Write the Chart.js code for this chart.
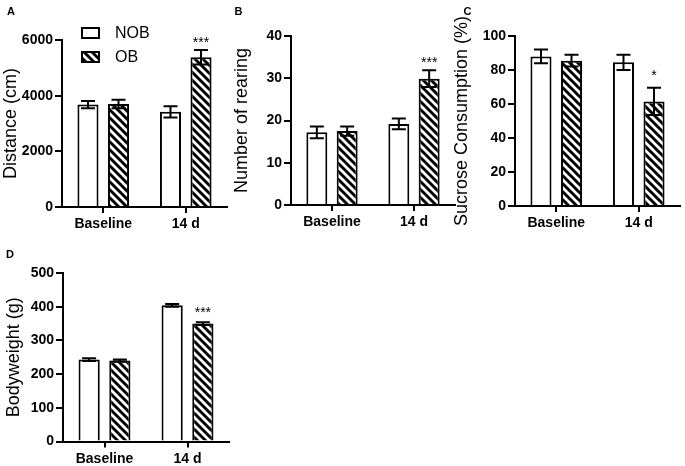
<!DOCTYPE html>
<html>
<head>
<meta charset="utf-8">
<script src="https://cdn.jsdelivr.net/npm/chart.js@4.4.1/dist/chart.umd.min.js"></script>
<style>
  html, body { margin: 0; padding: 0; background: #fff; }
  #wrap { position: relative; width: 685px; height: 466px; overflow: hidden; }
  canvas { position: absolute; }
</style>
</head>
<body>
<div id="wrap">
  <canvas id="cA" width="231" height="240" style="left:0;top:0"></canvas>
  <canvas id="cB" width="225" height="240" style="left:231px;top:0"></canvas>
  <canvas id="cC" width="234" height="240" style="left:451px;top:0"></canvas>
  <canvas id="cD" width="240" height="236" style="left:3px;top:230px"></canvas>
</div>
<script>
// shared
const groups = ['Baseline', '14 d'];
const seriesNames = ['NOB', 'OB'];

// A - distance
const distNOB = [3680, 3420];
const distNOBsem = [130, 200];
const distOB = [3700, 5380];
const distOBsem = [150, 260];
const distStars = ['', '***'];
const distTicks = [0, 2000, 4000, 6000];

// B - rearing
const rearNOB = [17.2, 19.2];
const rearNOBsem = [1.4, 1.3];
const rearOB = [17.5, 29.9];
const rearOBsem = [1.1, 2.0];
const rearStars = ['', '***'];
const rearTicks = [0, 10, 20, 30, 40];

// C - sucrose
const sucNOB = [88, 84.5];
const sucNOBsem = [4, 4.5];
const sucOB = [85.5, 61.5];
const sucOBsem = [3.5, 8];
const sucStars = ['', '*'];
const sucTicks = [0, 20, 40, 60, 80, 100];

// D - bodyweight
const bwNOB = [243, 404];
const bwNOBsem = [4, 4];
const bwOB = [240, 350];
const bwOBsem = [3, 4];
const bwStars = ['', '***'];
const bwTicks = [0, 100, 200, 300, 400, 500];

const FONT = "'Liberation Sans', Arial, sans-serif";
Chart.defaults.font.family = FONT;
Chart.defaults.color = '#000';

// diagonal hatch for the OB bars
function makeHatch() {
  const c = document.createElement('canvas');
  c.width = c.height = 8;
  const g = c.getContext('2d');
  g.fillStyle = '#fff';
  g.fillRect(0, 0, 8, 8);
  g.strokeStyle = '#000';
  g.lineWidth = 2.9;
  g.beginPath();
  g.moveTo(-2, -2); g.lineTo(10, 10);
  g.moveTo(-2, 6); g.lineTo(2, 10);
  g.moveTo(6, -2); g.lineTo(10, 2);
  g.stroke();
  return g.createPattern(c, 'repeat');
}
const hatch = makeHatch();

// error bars (+/- SEM) and significance stars
const errorBars = {
  id: 'errorBars',
  afterDatasetsDraw(chart, args, o) {
    const ctx = chart.ctx, y = chart.scales.y;
    chart.data.datasets.forEach((ds, i) => {
      chart.getDatasetMeta(i).data.forEach((bar, j) => {
        const v = ds.data[j], e = ds.sem[j];
        const yT = y.getPixelForValue(v + e), yB = y.getPixelForValue(v - e);
        ctx.save();
        ctx.strokeStyle = '#000';
        ctx.lineWidth = 2;
        ctx.beginPath();
        ctx.moveTo(bar.x, yT); ctx.lineTo(bar.x, yB);
        ctx.moveTo(bar.x - 7, yT); ctx.lineTo(bar.x + 7, yT);
        ctx.moveTo(bar.x - 7, yB); ctx.lineTo(bar.x + 7, yB);
        ctx.stroke();
        if (ds.stars && ds.stars[j]) {
          ctx.fillStyle = '#000';
          ctx.font = '14px ' + FONT;
          ctx.textAlign = 'center';
          ctx.textBaseline = 'alphabetic';
          ctx.fillText(ds.stars[j], bar.x, yT - o.gap);
        }
        ctx.restore();
      });
    });
  }
};

const panelLetter = {
  id: 'panelLetter',
  afterDraw(chart, args, o) {
    const ctx = chart.ctx;
    ctx.save();
    ctx.font = 'bold 11px ' + FONT;
    ctx.fillStyle = '#000';
    ctx.textAlign = 'center';
    ctx.textBaseline = 'middle';
    ctx.fillText(o.text, o.x, o.y);
    ctx.restore();
  }
};

// legend drawn above the plot like the original
const boxLegend = {
  id: 'boxLegend',
  afterDraw(chart, args, o) {
    if (!o.show) return;
    const ctx = chart.ctx;
    chart.data.datasets.forEach((ds, i) => {
      const y = o.y + i * o.step;
      ctx.save();
      ctx.fillStyle = ds.backgroundColor;
      ctx.fillRect(o.x, y, 17, 10);
      ctx.strokeStyle = '#000';
      ctx.lineWidth = 2;
      ctx.strokeRect(o.x, y, 17, 10);
      ctx.fillStyle = '#000';
      ctx.font = '16px ' + FONT;
      ctx.textBaseline = 'middle';
      ctx.fillText(ds.label, o.x + 33, y + 5.5);
      ctx.restore();
    });
  }
};

function panel(id, p) {
  return new Chart(document.getElementById(id), {
    type: 'bar',
    data: {
      labels: groups,
      datasets: [
        { label: seriesNames[0], data: p.nob, sem: p.nobSem, backgroundColor: '#fff', borderColor: '#000', borderWidth: 2 },
        { label: seriesNames[1], data: p.ob, sem: p.obSem, stars: p.stars, backgroundColor: hatch, borderColor: '#000', borderWidth: 2 }
      ]
    },
    options: {
      responsive: false,
      animation: false,
      devicePixelRatio: 1,
      layout: { padding: p.pad },
      datasets: { bar: { categoryPercentage: 0.74, barPercentage: 0.69 } },
      plugins: {
        legend: { display: false },
        tooltip: { enabled: false },
        panelLetter: p.letter,
        boxLegend: p.legend || { show: false },
        errorBars: { gap: p.starGap }
      },
      scales: {
        x: {
          grid: { drawOnChartArea: false, offset: false, color: '#000', lineWidth: 2, tickLength: 6 },
          border: { color: '#000', width: 2 },
          ticks: { color: '#000', padding: 3, maxRotation: 0, font: { size: 14, weight: 'bold' } },
          afterFit: s => { s.height = p.xh; }
        },
        y: {
          min: p.ticks[0],
          max: p.ticks[p.ticks.length - 1],
          afterBuildTicks: s => { s.ticks = p.ticks.map(v => ({ value: v })); },
          grid: { drawOnChartArea: false, color: '#000', lineWidth: 2, tickLength: 7 },
          border: { color: '#000', width: 2 },
          ticks: { color: '#000', padding: 2, font: { size: 14, weight: 'bold' }, callback: v => String(v) },
          title: { display: true, text: p.title, color: '#000', font: { size: 18 }, padding: { top: 0, bottom: 0 } },
          afterFit: s => { s.width = p.yw; }
        }
      }
    },
    plugins: [errorBars, panelLetter, boxLegend]
  });
}

panel('cA', {
  nob: distNOB, nobSem: distNOBsem, ob: distOB, obSem: distOBsem, stars: distStars, ticks: distTicks,
  title: 'Distance (cm)', yw: 62, xh: 25, pad: { left: 0, right: 4, top: 40, bottom: 8 },
  letter: { text: 'A', x: 11, y: 12 }, starGap: 3,
  legend: { show: true, x: 82, y: 28, step: 24 }
});
panel('cB', {
  nob: rearNOB, nobSem: rearNOBsem, ob: rearOB, obSem: rearOBsem, stars: rearStars, ticks: rearTicks,
  title: 'Number of rearing', yw: 60, xh: 25, pad: { left: 0, right: 1, top: 36, bottom: 10 },
  letter: { text: 'B', x: 7.5, y: 11.5 }, starGap: 3
});
panel('cC', {
  nob: sucNOB, nobSem: sucNOBsem, ob: sucOB, obSem: sucOBsem, stars: sucStars, ticks: sucTicks,
  title: 'Sucrose Consumption (%)', yw: 64, xh: 25, pad: { left: 0, right: 5, top: 36, bottom: 9 },
  letter: { text: 'C', x: 16.5, y: 11.5 }, starGap: 8
});
panel('cD', {
  nob: bwNOB, nobSem: bwNOBsem, ob: bwOB, obSem: bwOBsem, stars: bwStars, ticks: bwTicks,
  title: 'Bodyweight (g)', yw: 60, xh: 24.5, pad: { left: 0, right: 14, top: 43, bottom: 0 },
  letter: { text: 'D', x: 7, y: 25 }, starGap: 5
});
</script>
</body>
</html>
